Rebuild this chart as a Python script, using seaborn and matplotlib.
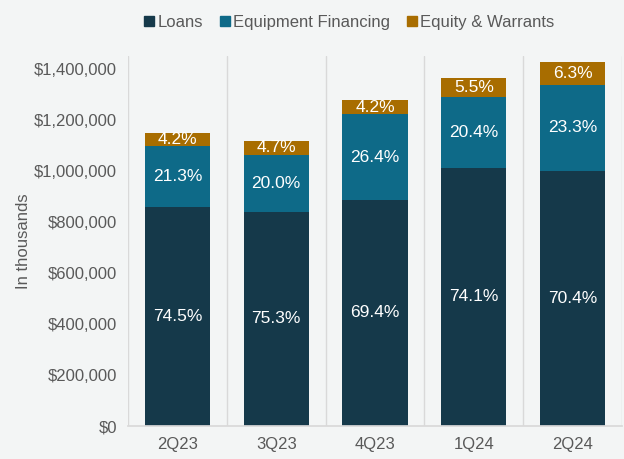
import pandas as pd
import seaborn as sns
import matplotlib.pyplot as plt
from matplotlib.patches import Patch

quarters = ['2Q23', '3Q23', '4Q23', '1Q24', '2Q24']
loans = [858000, 839000, 886000, 1013000, 1001000]
equipment = [241000, 224000, 336000, 275000, 334000]
equity = [50000, 55000, 54000, 75000, 90000]
loans_pct = ['74.5%', '75.3%', '69.4%', '74.1%', '70.4%']
equipment_pct = ['21.3%', '20.0%', '26.4%', '20.4%', '23.3%']
equity_pct = ['4.2%', '4.7%', '4.2%', '5.5%', '6.3%']

c_loans = '#15394a'
c_equip = '#0e6a88'
c_equity = '#a86d00'
bg = '#f3f5f5'
txt = '#595959'
grid = '#d9d9d9'

sns.set_theme(style='white')
plt.rcParams['font.family'] = ['Liberation Sans', 'DejaVu Sans']

df = pd.DataFrame({'quarter': quarters, 'loans': loans,
                   'equipment': equipment, 'equity': equity})
df['loans_equip'] = df['loans'] + df['equipment']
df['total'] = df['loans_equip'] + df['equity']

fig = plt.figure(figsize=(6.24, 4.59), dpi=100, facecolor=bg)
ax = fig.add_axes([128 / 624, 33 / 459, 494 / 624, 370 / 459], facecolor=bg)

# stacked by layering cumulative totals
for col, color in [('total', c_equity), ('loans_equip', c_equip), ('loans', c_loans)]:
    sns.barplot(data=df, x='quarter', y=col, color=color, width=0.66,
                saturation=1, errorbar=None, linewidth=0, ax=ax)

for i in range(len(quarters)):
    ax.text(i, loans[i] / 2, loans_pct[i], ha='center', va='center',
            color='white', fontsize=12.5)
    ax.text(i, loans[i] + equipment[i] / 2, equipment_pct[i], ha='center',
            va='center', color='white', fontsize=12.5)
    ax.text(i, df['loans_equip'][i] + equity[i] / 2, equity_pct[i],
            ha='center', va='center', color='white', fontsize=12.5)

ax.set_xlim(-0.5, 4.5)
ax.set_ylim(0, 1450000)
ax.set_yticks(range(0, 1400001, 200000))
ax.set_yticklabels(['${:,.0f}'.format(v) for v in range(0, 1400001, 200000)])
ax.set_xticks([i - 0.5 for i in range(6)], minor=True)
ax.grid(True, which='minor', axis='x', color=grid, linewidth=1)
ax.set_axisbelow(True)
ax.tick_params(axis='y', which='major', length=4, color=grid,
               labelsize=12, labelcolor=txt, pad=4)
ax.tick_params(axis='x', which='both', length=0, labelsize=12,
               labelcolor=txt, pad=8)
for s in ['top', 'right', 'left']:
    ax.spines[s].set_visible(False)
ax.spines['bottom'].set_color(grid)
ax.set_xlabel('')
ax.set_ylabel('In thousands', color=txt, fontsize=12, labelpad=2)

handles = [Patch(color=c_loans), Patch(color=c_equip), Patch(color=c_equity)]
fig.legend(handles, ['Loans', 'Equipment Financing', 'Equity & Warrants'],
           loc='upper center', bbox_to_anchor=(0.56, 1.0), ncol=3,
           frameon=False, fontsize=12, handlelength=0.6, handleheight=0.6,
           handletextpad=0.2, columnspacing=1.0, labelcolor=txt)

fig.savefig('out.png', dpi=100, facecolor=bg)
